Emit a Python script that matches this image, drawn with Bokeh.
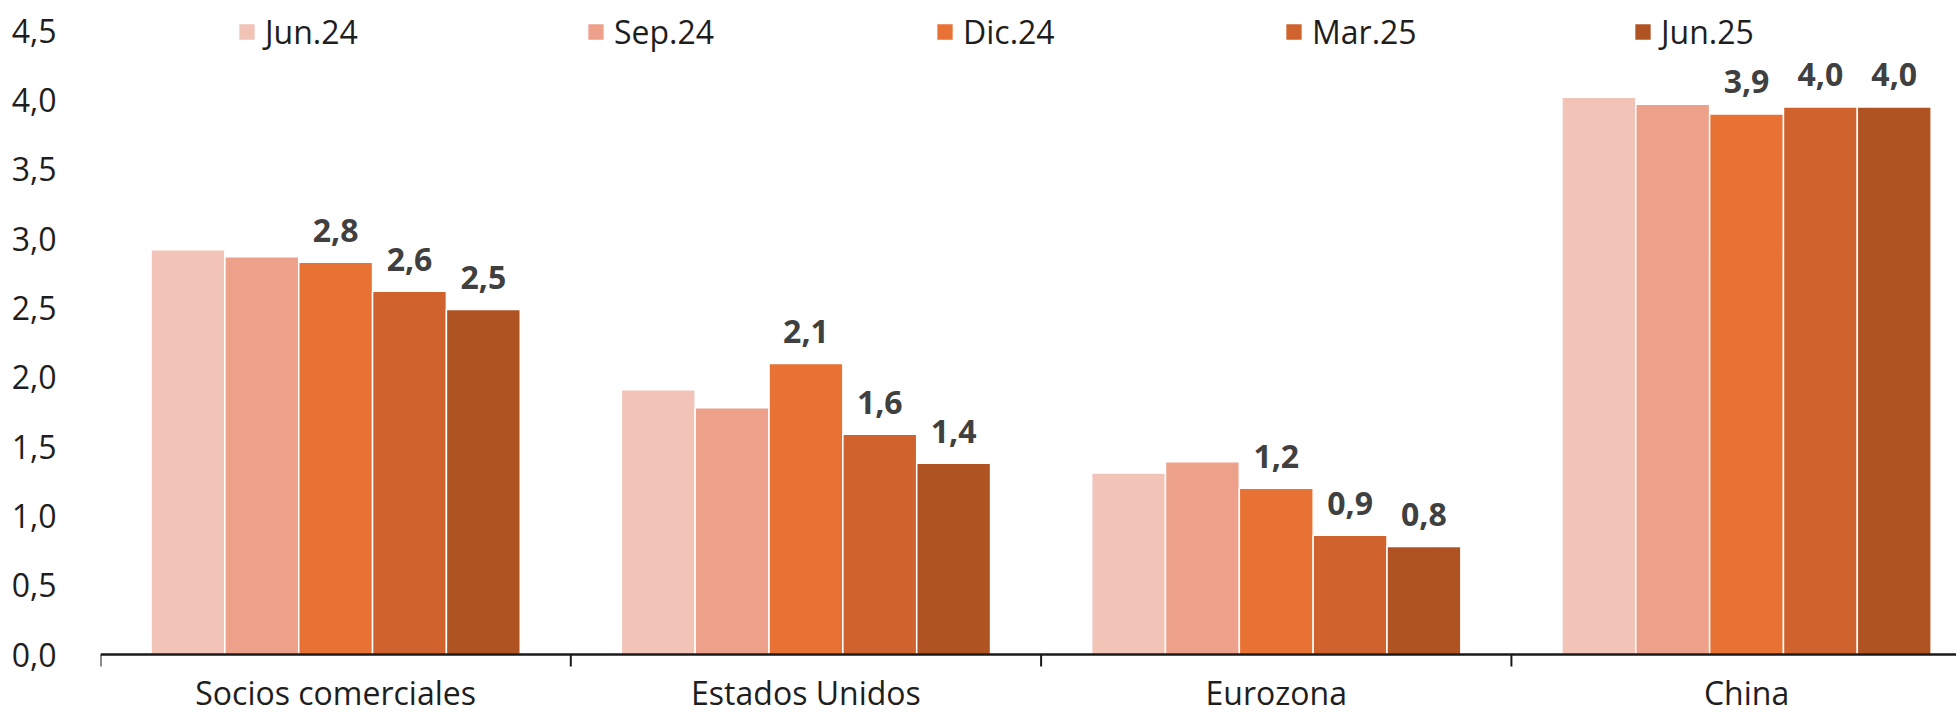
import math
from bokeh.plotting import figure
from bokeh.models import (FixedTicker, Legend, LegendItem, ColumnDataSource,
                          Range1d, CustomJSTickFormatter, Span)
from bokeh.embed import file_html
from bokeh.resources import INLINE
from bokeh.core.properties import value

# ---------------- data ----------------
categories = ["Socios comerciales", "Estados Unidos", "Eurozona", "China"]
periods = ["Jun.24", "Sep.24", "Dic.24", "Mar.25", "Jun.25"]
jun24 = [2.92, 1.91, 1.31, 4.02]
sep24 = [2.87, 1.78, 1.39, 3.97]
dic24 = [2.83, 2.10, 1.20, 3.90]
mar25 = [2.62, 1.59, 0.86, 3.951]
jun25 = [2.49, 1.38, 0.78, 3.951]
series = [jun24, sep24, dic24, mar25, jun25]
labelled = [False, False, True, True, True]
colors = ["#F2C4B8", "#EDA08A", "#E87234", "#CF622D", "#AF5323"]
y_ticks = [0.0, 0.5, 1.0, 1.5, 2.0, 2.5, 3.0, 3.5, 4.0, 4.5]

# ---------------- layout ----------------
FONT = "Open Sans"
W, H = 1956, 716
left = 100
base_px = 654                  # pixel row of the value 0 baseline
px_per_unit = 138.6
cat_px = 470.3
bar_w = 0.157

p = figure(width=W, height=H, output_backend="svg", toolbar_location=None,
           x_range=Range1d(0, (W - left) / cat_px),
           y_range=Range1d(-(H - base_px) / px_per_unit, base_px / px_per_unit),
           min_border_left=left, min_border_right=0, min_border_top=0,
           min_border_bottom=0)
p.outline_line_color = None
p.grid.visible = False
p.background_fill_color = "white"
p.xaxis.visible = False

renderers = []
for k, (vals, col) in enumerate(zip(series, colors)):
    xs = [i + 0.5 + (k - 2) * bar_w for i in range(len(categories))]
    src = ColumnDataSource(dict(
        x=xs, top=vals,
        txt=[f"{v:.1f}".replace(".", ",") for v in vals]))
    r = p.vbar(x="x", top="top", width=bar_w, source=src, fill_color=col,
               line_color="white", line_width=1.5)
    renderers.append(r)
    if labelled[k]:
        p.text(x="x", y="top", text="txt", source=src, text_align="center",
               text_baseline="alphabetic", y_offset=-32,
               text_font=value(FONT), text_font_style="bold",
               text_font_size="32px", text_color="#404040")

# y axis
yax = p.yaxis[0]
yax.ticker = FixedTicker(ticks=y_ticks)
yax.formatter = CustomJSTickFormatter(code="return tick.toFixed(1).replace('.', ',');")
yax.axis_line_color = None
yax.major_tick_line_color = None
yax.minor_tick_line_color = None
yax.major_label_standoff = 38
yax.major_label_text_font = FONT
yax.major_label_text_font_size = "32px"
yax.major_label_text_color = "#1e1e1e"

# category axis: baseline, boundary ticks and centred labels
p.add_layout(Span(location=0, dimension="width", line_color="#1a1a1a",
                  line_width=2.5))
bounds = list(range(len(categories)))
p.ray(x=bounds, y=[0] * len(bounds), length=12, length_units="screen",
      angle=-math.pi / 2, line_color="#1a1a1a", line_width=2)
cat_src = ColumnDataSource(dict(x=[i + 0.5 for i in range(len(categories))],
                                y=[0] * len(categories), text=categories))
p.text(x="x", y="y", text="text", source=cat_src, y_offset=38,
       text_align="center", text_baseline="alphabetic",
       text_font=value(FONT), text_font_size="32px", text_color="#1e1e1e")

legend = Legend(items=[LegendItem(label=lab, renderers=[r]) for lab, r in zip(periods, renderers)],
                orientation="horizontal", location=(136, 663),
                glyph_width=21, glyph_height=21, label_standoff=8,
                label_width=320, spacing=0, padding=0, margin=0,
                border_line_alpha=0, background_fill_alpha=0,
                label_text_font=FONT, label_text_font_size="32px",
                label_text_color="#1e1e1e")
p.add_layout(legend)

open("out.html", "w").write(file_html(p, INLINE))
